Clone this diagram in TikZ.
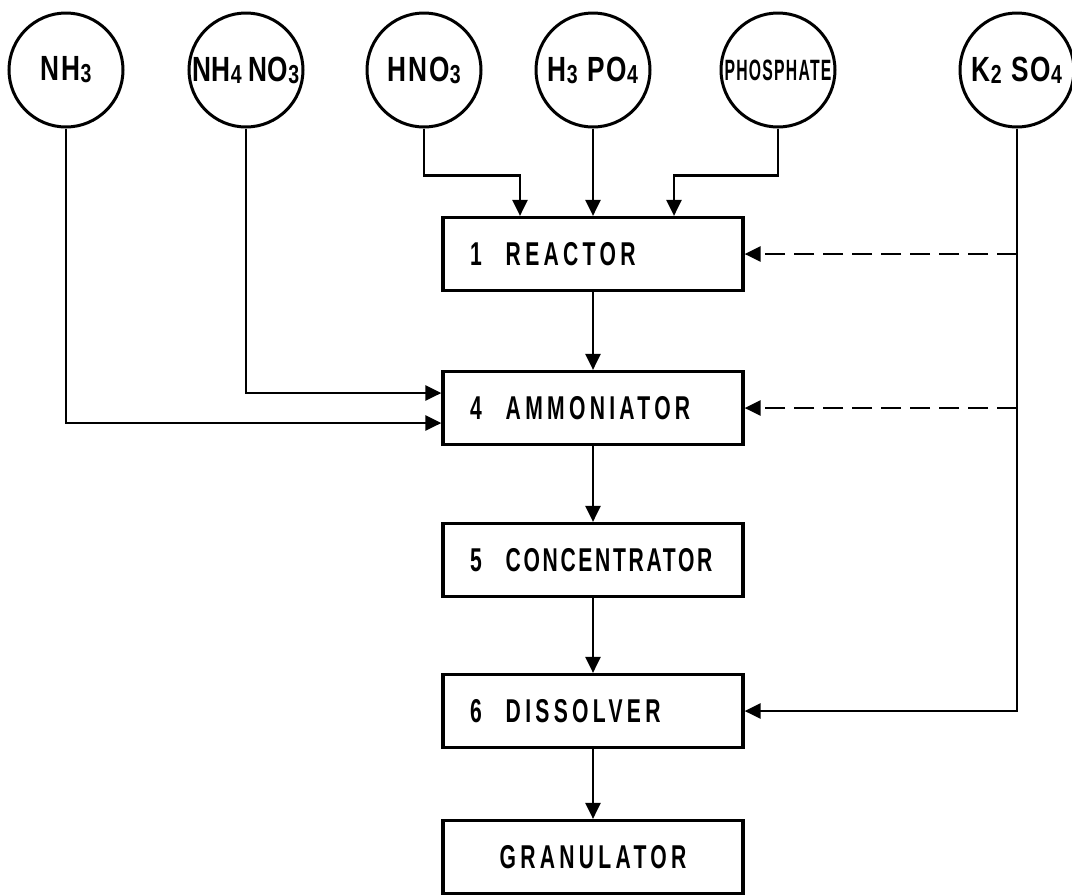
\documentclass[tikz,border=0pt]{standalone}
\usepackage{fontspec}
\newfontfamily\plantfont{Liberation Sans}[FakeStretch=0.64,LetterSpace=13]
\newfontfamily\feedfont{Liberation Sans}[FakeStretch=0.75,LetterSpace=6]
\usetikzlibrary{arrows.meta}
\newcommand{\lowdigit}[1]{\raisebox{-2pt}{\fontsize{26}{26}\selectfont #1}}
\newcommand{\unitno}[1]{#1\hspace{24pt}}

\begin{document}
\begin{tikzpicture}[x=1pt,y=-1pt,>={Triangle[length=16pt,width=15pt]},
  feed/.style={draw,circle,line width=3pt,minimum size=114pt,inner sep=-10pt,font={\feedfont\bfseries\fontsize{35}{35}\selectfont}},
  unitbox/.style={draw,line width=3.2pt,minimum width=300pt,minimum height=73pt,inner xsep=27pt,text width=246pt,align=left,font={\plantfont\bfseries\fontsize{33}{33}\selectfont}},
  flow/.style={->,line width=2.6pt},
  side/.style={->,line width=2.6pt,dash pattern=on 20pt off 9pt}]
\useasboundingbox (0,0) rectangle (1072,895);
% raw materials
\node[feed] (nh3) at (66,70) {NH\lowdigit{3}};
\node[feed] (nh4no3) at (246,70) {\addfontfeature{LetterSpace=0}NH\lowdigit{4} NO\lowdigit{3}};
\node[feed] (hno3) at (424,70) {HNO\lowdigit{3}};
\node[feed] (h3po4) at (593,70) {H\lowdigit{3} PO\lowdigit{4}};
\node[feed] (phosphate) at (778,70) {\scalebox{0.6}[0.84]{PHOSPHATE}};
\node[feed] (k2so4) at (1017,70) {K\lowdigit{2} SO\lowdigit{4}};
% process units
\node[unitbox] (reactor) at (593,254) {\unitno{1}REACTOR};
\node[unitbox] (ammoniator) at (593,408) {\unitno{4}AMMONIATOR};
\node[unitbox] (concentrator) at (593,560) {\unitno{5}\addfontfeature{LetterSpace=8}CONCENTRATOR};
\node[unitbox] (dissolver) at (593,711) {\unitno{6}DISSOLVER};
\node[unitbox,align=center] (granulator) at (593,857) {GRANULATOR};
% feeds to reactor
\draw[flow] (hno3.south) -- ++(0,47) -| ([xshift=-73pt]reactor.north);
\draw[flow] (h3po4.south) -- (reactor.north);
\draw[flow] (phosphate.south) -- ++(0,47) -| ([xshift=81pt]reactor.north);
% feeds to ammoniator
\draw[flow] (nh4no3.south) |- ([yshift=15pt]ammoniator.west);
\draw[flow] (nh3.south) |- ([yshift=-15pt]ammoniator.west);
% main line
\draw[flow] (reactor) -- (ammoniator);
\draw[flow] (ammoniator) -- (concentrator);
\draw[flow] (concentrator) -- (dissolver);
\draw[flow] (dissolver) -- (granulator);
% potassium sulphate
\draw[flow] (k2so4.south) |- (dissolver.east);
\draw[side] (k2so4.south |- reactor.east) -- (reactor.east);
\draw[side] (k2so4.south |- ammoniator.east) -- (ammoniator.east);
\end{tikzpicture}
\end{document}
